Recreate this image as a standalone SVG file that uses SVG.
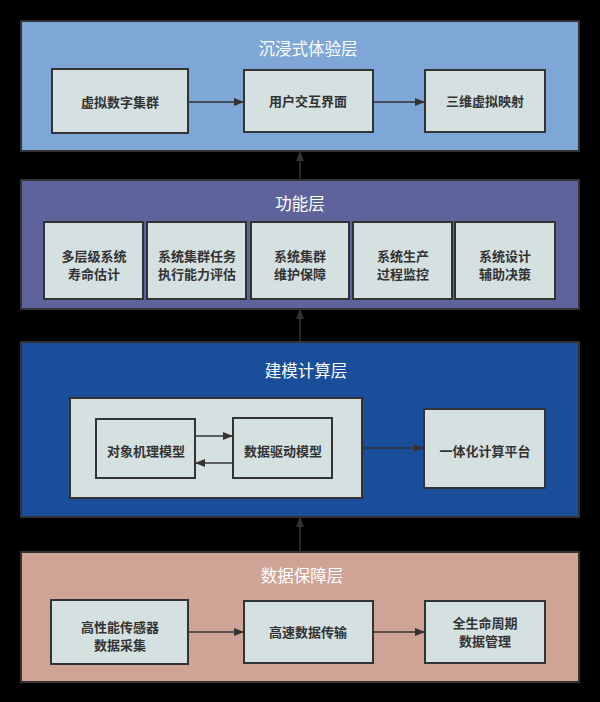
<svg xmlns="http://www.w3.org/2000/svg" width="600" height="702" viewBox="0 0 600 702">
<defs>
<marker id="ah" markerWidth="10" markerHeight="8" refX="9" refY="4" orient="auto" markerUnits="userSpaceOnUse">
<path d="M0,0 L10,4 L0,8 Z" fill="#333"/>
</marker>
<style>
.layer{stroke:#333;stroke-width:2}
.box{fill:#D5E0E1;stroke:#333;stroke-width:2}
.title{font-family:"Noto Sans CJK SC","Noto Sans",sans-serif;font-size:16.5px;fill:#fff;text-anchor:middle}
.lbl{font-family:"Noto Sans CJK SC","Noto Sans",sans-serif;font-size:13px;font-weight:bold;fill:#333;text-anchor:middle}
.conn{stroke:#333;stroke-width:1.5;fill:none;marker-end:url(#ah)}
</style>
</defs>
<rect x="0" y="0" width="600" height="702" fill="#000"/>

<g id="layer-immersive">
<rect class="layer" x="21" y="21" width="558" height="130" fill="#7EA6D6"/>
<text class="title" x="308" y="55">沉浸式体验层</text>
</g>
<g id="node-virtual-cluster"><rect class="box" x="52" y="69" width="136" height="64"/><text class="lbl" x="120" y="107">虚拟数字集群</text></g>
<g id="node-ui"><rect class="box" x="244" y="70" width="129" height="62"/><text class="lbl" x="308" y="106">用户交互界面</text></g>
<g id="node-3d"><rect class="box" x="425" y="70" width="120" height="62"/><text class="lbl" x="485" y="106">三维虚拟映射</text></g>

<g id="layer-function">
<rect class="layer" x="21" y="180" width="558" height="129" fill="#5E649B"/>
<text class="title" x="300" y="210">功能层</text>
</g>
<g id="node-f1"><rect class="box" x="44" y="222" width="99" height="77"/><text class="lbl" x="94" y="261">多层级系统</text><text class="lbl" x="94" y="279">寿命估计</text></g>
<g id="node-f2"><rect class="box" x="147" y="222" width="99" height="77"/><text class="lbl" x="197" y="261">系统集群任务</text><text class="lbl" x="197" y="279">执行能力评估</text></g>
<g id="node-f3"><rect class="box" x="251" y="222" width="98" height="77"/><text class="lbl" x="300" y="261">系统集群</text><text class="lbl" x="300" y="279">维护保障</text></g>
<g id="node-f4"><rect class="box" x="353" y="222" width="99" height="77"/><text class="lbl" x="403" y="261">系统生产</text><text class="lbl" x="403" y="279">过程监控</text></g>
<g id="node-f5"><rect class="box" x="455" y="222" width="100" height="77"/><text class="lbl" x="505" y="261">系统设计</text><text class="lbl" x="505" y="279">辅助决策</text></g>

<g id="layer-modeling">
<rect class="layer" x="21" y="342" width="558" height="175" fill="#1A4E9B"/>
<text class="title" x="306" y="377">建模计算层</text>
</g>
<g id="node-model-group"><rect class="box" x="70" y="398" width="292" height="100"/></g>
<g id="node-physics"><rect class="box" x="96" y="419" width="99" height="59"/><text class="lbl" x="146" y="456">对象机理模型</text></g>
<g id="node-datadriven"><rect class="box" x="233" y="418" width="99" height="60"/><text class="lbl" x="283" y="456">数据驱动模型</text></g>
<g id="node-platform"><rect class="box" x="424" y="409" width="121" height="79"/><text class="lbl" x="485" y="456">一体化计算平台</text></g>

<g id="layer-data">
<rect class="layer" x="21" y="552" width="558" height="130" fill="#CFA497"/>
<text class="title" x="302" y="582">数据保障层</text>
</g>
<g id="node-sensor"><rect class="box" x="51" y="600" width="137" height="64"/><text class="lbl" x="120" y="632">高性能传感器</text><text class="lbl" x="120" y="650">数据采集</text></g>
<g id="node-transfer"><rect class="box" x="244" y="601" width="129" height="62"/><text class="lbl" x="308" y="637">高速数据传输</text></g>
<g id="node-lifecycle"><rect class="box" x="425" y="601" width="120" height="62"/><text class="lbl" x="485" y="628">全生命周期</text><text class="lbl" x="485" y="646">数据管理</text></g>

<g id="connectors">
<line class="conn" x1="188" y1="102" x2="243" y2="102"/>
<line class="conn" x1="373" y1="102" x2="424" y2="102"/>
<line class="conn" x1="300" y1="180" x2="300" y2="152"/>
<line class="conn" x1="300" y1="342" x2="300" y2="310"/>
<line class="conn" x1="300" y1="552" x2="300" y2="518"/>
<line class="conn" x1="195" y1="436" x2="232" y2="436"/>
<line class="conn" x1="233" y1="463" x2="196" y2="463"/>
<line class="conn" x1="362" y1="448" x2="423" y2="448"/>
<line class="conn" x1="188" y1="632" x2="243" y2="632"/>
<line class="conn" x1="373" y1="632" x2="424" y2="632"/>
</g>
</svg>
